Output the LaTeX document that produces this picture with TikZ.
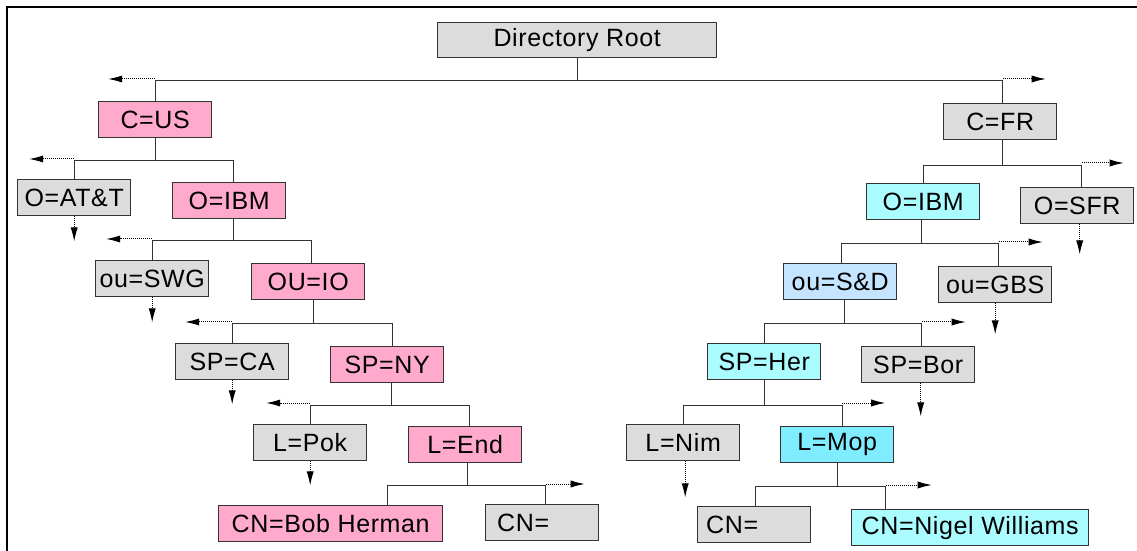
\documentclass[tikz,border=0pt]{standalone}
\usepackage{fontspec}
\usetikzlibrary{arrows.meta}
\newfontfamily\lab{Liberation Sans}[LetterSpace=2.5]
\definecolor{pinkfill}{HTML}{FFAACC}
\definecolor{grayfill}{HTML}{DCDCDC}
\definecolor{cyanfill}{HTML}{AAFCFF}
\definecolor{bluefill}{HTML}{C4E4FF}
\definecolor{mopfill}{HTML}{80ECFF}
\definecolor{linecol}{HTML}{333333}
\begin{document}
\begin{tikzpicture}[x=0.5pt,y=-0.5pt,
  box/.style={draw=linecol, line width=0.7pt, minimum width=56.5pt, minimum height=18pt,
    inner sep=0pt, anchor=north west, font=\lab\fontsize{12.5}{14}\selectfont, text=black},
  pk/.style={box, fill=pinkfill},
  gr/.style={box, fill=grayfill},
  cy/.style={box, fill=cyanfill},
  bl/.style={box, fill=bluefill},
  mp/.style={box, fill=mopfill},
  conn/.style={draw=linecol, line width=0.7pt},
  more/.style={draw=black, line width=0.5pt, dash pattern=on 0.5pt off 0.5pt,
    -{Latex[length=7pt,width=3.6pt]}}]
\useasboundingbox (0,0) rectangle (1137,551);
\draw[line width=0.75pt] (7,551) -- (7,7) -- (1137,7);

% nodes
\node[gr, minimum width=139.5pt, minimum height=17.5pt] (root) at (437,22) {Directory Root};
\node[pk] (cus) at (98,101) {C=US};
\node[gr] (cfr) at (943,103) {C=FR};
\node[gr] (oatt) at (17,179) {O=AT\&T};
\node[pk] (oibmL) at (172,182) {O=IBM};
\node[cy] (oibmR) at (866,183) {O=IBM};
\node[gr] (osfr) at (1020,187) {O=SFR};
\node[gr] (ouswg) at (95,260) {ou=SWG};
\node[pk] (ouio) at (251,263) {OU=IO};
\node[bl] (ousd) at (783,263) {ou=S\&D};
\node[gr] (ougbs) at (938,266) {ou=GBS};
\node[gr] (spca) at (175,343) {SP=CA};
\node[pk] (spny) at (330,346) {SP=NY};
\node[cy] (spher) at (707,343) {SP=Her};
\node[gr] (spbor) at (861,346) {SP=Bor};
\node[gr] (lpok) at (253,424) {L=Pok};
\node[pk] (lend) at (408,426) {L=End};
\node[gr] (lnim) at (626,424) {L=Nim};
\node[mp] (lmop) at (780,426) {L=Mop};
\node[pk, minimum width=112pt] (cnbob) at (218,505) {CN=Bob Herman};
\node[gr] (cnL) at (485,504) {\makebox[45pt][l]{CN=}};
\node[gr] (cnR) at (697,506) {\makebox[48pt][l]{CN=}};
\node[cy, minimum width=118.5pt] (cnnigel) at (851,509) {CN=Nigel Williams};

% root
\draw[conn] (root.south) -- ++(0,22) coordinate (b0);
\draw[conn] (cus.north) |- (b0) -| ([xshift=1.25pt]cfr.north);
\draw[more] (cus.north) ++(0,-22) -- ++(-47,0);
\draw[more] ([xshift=1.25pt]cfr.north) ++(0,-24) -- ++(43,0);

% C=US
\draw[conn] (cus.south) -- ++(0,22) coordinate (b1);
\draw[conn] (oatt.north) |- (b1) -| ([xshift=2pt]oibmL.north);
\draw[more] (oatt.north) ++(0,-20) -- ++(-45,0);
\draw[more] (oatt.south) -- ++(0,25);

% O=IBM left
\draw[conn] ([xshift=2pt]oibmL.south) -- ++(0,21) coordinate (b2);
\draw[conn] (ouswg.north) |- (b2) -| ([xshift=1.5pt]ouio.north);
\draw[more] (ouswg.north) ++(0,-21) -- ++(-46,0);
\draw[more] (ouswg.south) -- ++(0,25);

% OU=IO
\draw[conn] ([xshift=2.5pt]ouio.south) -- ++(0,23) coordinate (b3);
\draw[conn] (spca.north) |- (b3) -| ([xshift=2.75pt]spny.north);
\draw[more] (spca.north) ++(0,-21) -- ++(-47,0);
\draw[more] (spca.south) -- ++(0,24);

% SP=NY
\draw[conn] ([xshift=2.25pt]spny.south) -- ++(0,22) coordinate (b4);
\draw[conn] (lpok.north) |- (b4) -| ([xshift=2.25pt]lend.north);
\draw[more] (lpok.north) ++(0,-21) -- ++(-44,0);
\draw[more] (lpok.south) -- ++(0,24);

% L=End
\draw[conn] ([xshift=1.25pt]lend.south) -- ++(0,22) coordinate (b5);
\draw[conn] ([xshift=28.5pt]cnbob.north) |- (b5) -| ([xshift=1.75pt]cnL.north);
\draw[more] ([xshift=1.75pt]cnL.north) ++(0,-20) -- ++(39,0);

% C=FR
\draw[conn] ([xshift=1.25pt]cfr.south) -- ++(0,25) coordinate (b6);
\draw[conn] (oibmR.north) |- (b6) -| ([xshift=2.25pt]osfr.north);
\draw[more] ([xshift=2.25pt]osfr.north) ++(0,-24) -- ++(42,0);
\draw[more] ([xshift=1.25pt]osfr.south) -- ++(0,30);

% O=IBM right
\draw[conn] ([xshift=-1pt]oibmR.south) -- ++(0,23) coordinate (b7);
\draw[conn] ([xshift=0.75pt]ousd.north) |- (b7) -| ([xshift=1.75pt]ougbs.north);
\draw[more] ([xshift=1.75pt]ougbs.north) ++(0,-24) -- ++(44,0);
\draw[more] (ougbs.south) -- ++(0,31);

% ou=S&D
\draw[conn] ([xshift=2.25pt]ousd.south) -- ++(0,23) coordinate (b8);
\draw[conn] (spher.north) |- (b8) -| ([xshift=1.75pt]spbor.north);
\draw[more] ([xshift=1.75pt]spbor.north) ++(0,-24) -- ++(44,0);
\draw[more] ([xshift=1.25pt]spbor.south) -- ++(0,33);

% SP=Her
\draw[conn] (spher.south) -- ++(0,25) coordinate (b9);
\draw[conn] (lnim.north) |- (b9) -| ([xshift=2.5pt]lmop.north);
\draw[more] ([xshift=2.5pt]lmop.north) ++(0,-23) -- ++(43,0);
\draw[more] ([xshift=1pt]lnim.south) -- ++(0,36);

% L=Mop
\draw[conn] (lmop.south) -- ++(0,23) coordinate (b10);
\draw[conn] ([xshift=0.75pt]cnR.north) |- (b10) -| ([xshift=-42.25pt]cnnigel.north);
\draw[more] ([xshift=-42.25pt]cnnigel.north) ++(0,-24) -- ++(46,0);
\end{tikzpicture}
\end{document}
